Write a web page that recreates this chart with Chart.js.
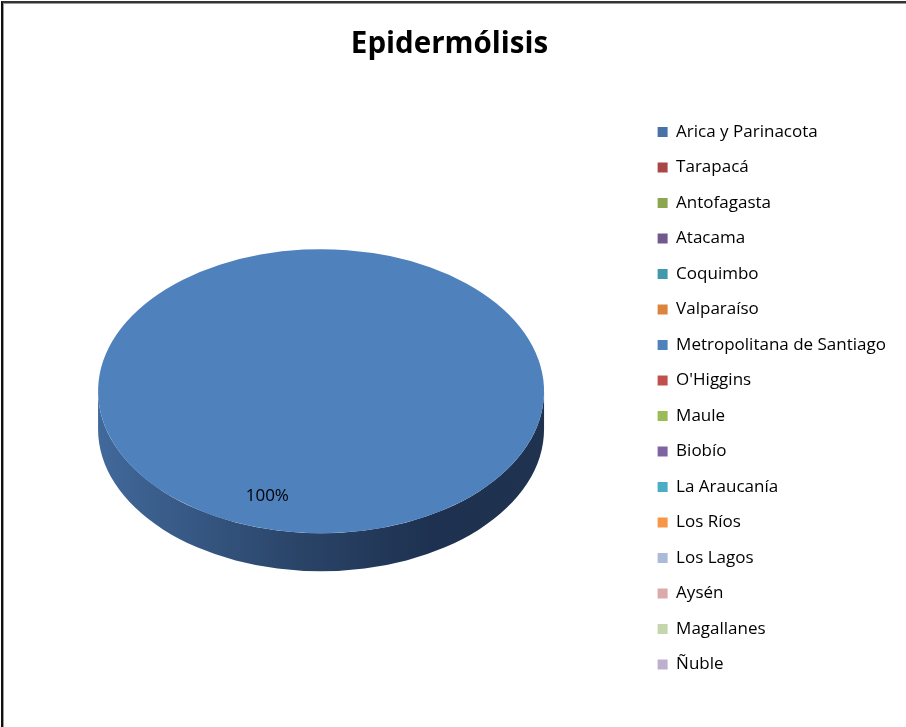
<!DOCTYPE html>
<html>
<head>
<meta charset="utf-8">
<script src="https://cdn.jsdelivr.net/npm/chart.js@4/dist/chart.umd.min.js"></script>
<style>
  html, body { margin:0; padding:0; background:#fff; }
  #wrap { position:relative; width:906px; height:727px; }
  #frame { position:absolute; left:1px; top:1px; right:0; bottom:0; border-left:2px solid #111; border-top:2px solid #333; box-shadow: inset 1px 1px 0 #999; pointer-events:none; }
  canvas { position:absolute; left:0; top:0; }
</style>
</head>
<body>
<div id="wrap">
  <canvas id="chart" width="906" height="727"></canvas>
  <div id="frame"></div>
</div>
<script>
const TITLE = 'Epidermólisis';
const REGIONS = ['Arica y Parinacota','Tarapacá','Antofagasta','Atacama','Coquimbo','Valparaíso',
  'Metropolitana de Santiago',"O'Higgins",'Maule','Biobío','La Araucanía','Los Ríos','Los Lagos',
  'Aysén','Magallanes','Ñuble'];
const CASES = [0,0,0,0,0,0,1,0,0,0,0,0,0,0,0,0];
const COLORS = ['#4a72a8','#a94744','#8aa64f','#71588f','#4198af','#db843d','#4f81bd','#c0504d',
  '#9bbb59','#8064a2','#4bacc6','#f79646','#aabad7','#d9aaa9','#c6d6ac','#bcb0cd'];

// 3d look: flatten the pie vertically and draw the extruded side
const TILT = 0.637, DEPTH = 38;
const pie3d = {
  id:'pie3d',
  beforeDatasetsDraw(chart){
    const ctx = chart.ctx;
    const arc = chart.getDatasetMeta(0).data.find(a=>a.circumference>0);
    if(!arc) return;
    const {x, y, outerRadius:r} = arc;
    const ry = r*TILT;
    const g = ctx.createLinearGradient(x-r, 0, x+r, 0);
    g.addColorStop(0, '#41699b');
    g.addColorStop(0.45, '#2a4468');
    g.addColorStop(0.75, '#1e3150');
    g.addColorStop(1, '#1f3350');
    ctx.save();
    ctx.beginPath();
    ctx.ellipse(x, y+DEPTH, r, ry, 0, 0, Math.PI, false);
    ctx.ellipse(x, y, r, ry, 0, Math.PI, 0, true);
    ctx.closePath();
    ctx.fillStyle = g;
    ctx.fill();
    ctx.restore();
    ctx.save();
    ctx.translate(x, y); ctx.scale(1, TILT); ctx.translate(-x, -y);
  },
  afterDatasetsDraw(chart){
    const ctx = chart.ctx;
    ctx.restore();
    const total = CASES.reduce((a,b)=>a+b,0);
    chart.getDatasetMeta(0).data.forEach((arc,i)=>{
      if(!CASES[i]) return;
      const mid = (arc.startAngle+arc.endAngle)/2;
      const rr = arc.outerRadius*0.78;
      const lx = arc.x + Math.cos(mid)*rr;
      const ly = arc.y + Math.sin(mid)*rr*TILT;
      ctx.save();
      ctx.font = '17px "Open Sans", sans-serif';
      ctx.fillStyle = '#000';
      ctx.textAlign = 'center'; ctx.textBaseline = 'middle';
      ctx.fillText(Math.round(CASES[i]/total*100)+'%', lx, ly);
      ctx.restore();
    });
  }
};

new Chart(document.getElementById('chart'), {
  type:'pie',
  data:{labels:REGIONS, datasets:[{data:CASES, backgroundColor:COLORS, borderWidth:0, radius:223}]},
  options:{
    responsive:false,
    animation:false,
    rotation:18,
    layout:{padding:{top:0, bottom:15, left:3, right:10}},
    plugins:{
      title:{display:true, text:TITLE, color:'#000', font:{family:'"Open Sans", sans-serif', size:29.5, weight:'bold'}, padding:{top:27, bottom:8}},
      legend:{position:'right', align:'start',
        title:{display:true, text:' ', font:{size:10}, padding:{top:93, bottom:0}},
        labels:{color:'#000', boxWidth:10, boxHeight:10, padding:18.5, font:{family:'"Open Sans", sans-serif', size:17}}},
      tooltip:{enabled:false}
    }
  },
  plugins:[pie3d]
});
</script>
</body>
</html>
